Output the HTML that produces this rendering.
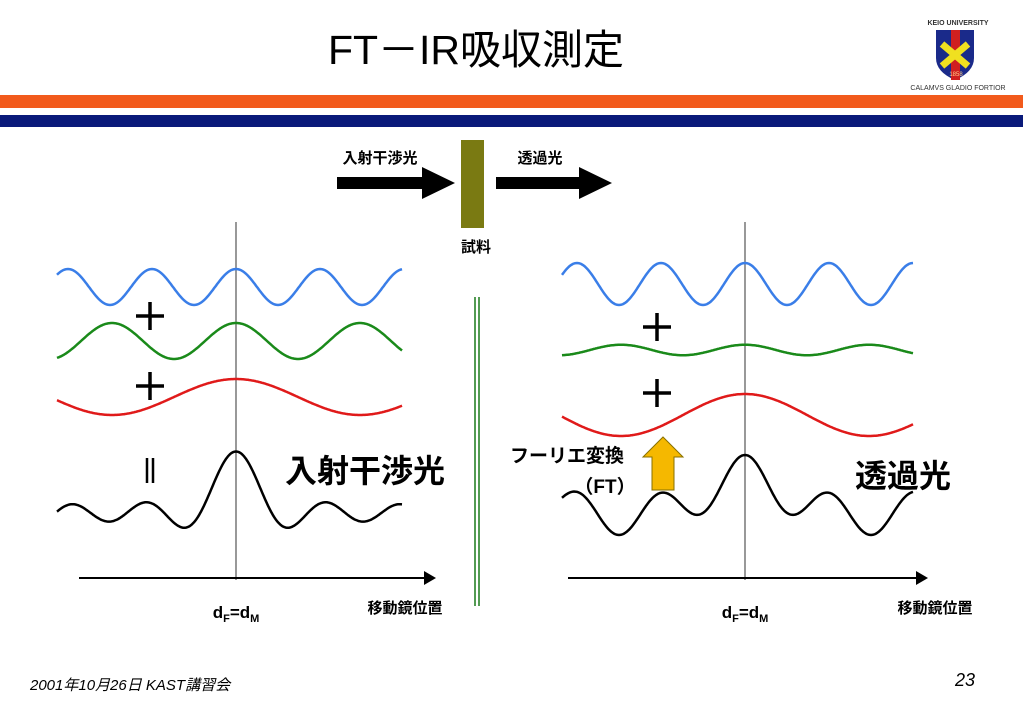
<!DOCTYPE html>
<html><head><meta charset="utf-8"><style>
body{margin:0;background:#fff;}
svg{display:block;font-family:"Liberation Sans","Noto Sans CJK JP",sans-serif;}
</style></head><body>
<svg width="1023" height="708" viewBox="0 0 1023 708">
<text x="476" y="64" font-size="41" text-anchor="middle">FT－IR吸収測定</text>
<rect x="0" y="95" width="1023" height="13" fill="#f25a1c"/>
<rect x="0" y="115" width="1023" height="12" fill="#0a1a7a"/>
<g>
<text x="958" y="25" font-size="7" text-anchor="middle" font-weight="bold" fill="#333">KEIO UNIVERSITY</text>
<path d="M936 30 h38 v28 q0 14 -19 22 q-19 -8 -19 -22z" fill="#1a2a8a"/>
<rect x="951" y="30" width="9" height="50" fill="#d02020"/>
<path d="M942 44 l26 22 M968 44 l-26 22" stroke="#f0e020" stroke-width="7"/>
<text x="956" y="76" font-size="6" fill="#fc8" text-anchor="middle">1858</text>
<text x="958" y="90" font-size="7" text-anchor="middle" fill="#333">CALAMVS GLADIO FORTIOR</text>
</g>
<text x="380" y="163" font-size="15" text-anchor="middle" font-weight="bold">入射干渉光</text>
<path d="M337 177 h85 v-10 l33 16 l-33 16 v-10 h-85z" fill="#000"/>
<rect x="461" y="140" width="23" height="88" fill="#7a7a12"/>
<text x="476" y="252" font-size="15" text-anchor="middle" font-weight="bold">試料</text>
<text x="540" y="163" font-size="15" text-anchor="middle" font-weight="bold">透過光</text>
<path d="M496 177 h83 v-10 l33 16 l-33 16 v-10 h-83z" fill="#000"/>
<line x1="475" y1="297" x2="475" y2="606" stroke="#1a7a1a" stroke-width="1.5"/>
<line x1="479" y1="297" x2="479" y2="606" stroke="#1a7a1a" stroke-width="1.5"/>
<g id="left"></g>
<g id="right"></g>
<g stroke="#000" stroke-width="3.5">
<path d="M136 316 h28 M150 302 v28"/>
<path d="M136 386 h28 M150 372 v28"/>
<path d="M643 327 h28 M657 313 v28"/>
<path d="M643 393 h28 M657 379 v28"/>
<path d="M147 458 v25 M153 458 v25" stroke-width="2.5"/>
</g>
<text x="365" y="482" font-size="32" font-weight="bold" text-anchor="middle">入射干渉光</text>
<text x="903" y="487" font-size="32" font-weight="bold" text-anchor="middle">透過光</text>
<text x="567" y="462" font-size="19" text-anchor="middle" font-weight="bold">フーリエ変換</text>
<text x="605" y="493" font-size="19" text-anchor="middle" font-weight="bold">（FT）</text>
<path d="M652 490 v-33 h-9 l20 -20 l20 20 h-9 v33z" fill="#f5b800" stroke="#887000" stroke-width="1"/>
<text x="236" y="618" font-size="17" font-weight="bold" text-anchor="middle">d<tspan font-size="11" dy="4">F</tspan><tspan dy="-4">=d</tspan><tspan font-size="11" dy="4">M</tspan></text>
<text x="745" y="618" font-size="17" font-weight="bold" text-anchor="middle">d<tspan font-size="11" dy="4">F</tspan><tspan dy="-4">=d</tspan><tspan font-size="11" dy="4">M</tspan></text>
<text x="405" y="613" font-size="15" font-weight="bold" text-anchor="middle">移動鏡位置</text>
<text x="935" y="613" font-size="15" font-weight="bold" text-anchor="middle">移動鏡位置</text>
<text x="30" y="690" font-size="15" font-style="italic">2001年10月26日  KAST講習会</text>
<text x="965" y="686" font-size="18" font-style="italic" text-anchor="middle">23</text>
</svg>
<script>
// wave component data
const periods = [84, 124, 248];
const leftAmps = [1, 1, 1];
const rightAmps = [1, 0.25, 1];
const colors = ['#3a7ee8', '#1a8a1a', '#e01a1a'];
const leftMid = [287, 341, 397];
const rightMid = [284, 350, 415];
const NS = 'http://www.w3.org/2000/svg';
function drawPanel(id, cx, x0, x1, ax0, ax1, amps, mids, compScale, sumMid, sumScale) {
  const g = document.getElementById(id);
  const vl = document.createElementNS(NS, 'line');
  
  
  vl.setAttribute('x1', cx); vl.setAttribute('x2', cx);
  vl.setAttribute('y1', 222); vl.setAttribute('y2', 580);
  vl.setAttribute('stroke', '#555'); vl.setAttribute('stroke-width', 1.2);
  g.appendChild(vl);
  const ax = document.createElementNS(NS, 'path');
  
  
  ax.setAttribute('d', `M${ax0} 578 H${ax1 - 10}`);
  ax.setAttribute('stroke', '#000'); ax.setAttribute('stroke-width', 2);
  g.appendChild(ax);
  const ah = document.createElementNS(NS, 'path');
  
  
  ah.setAttribute('d', `M${ax1 - 12} 571 L${ax1} 578 L${ax1 - 12} 585z`);
  g.appendChild(ah);
  const comp = (i, x) => amps[i] * Math.cos(2 * Math.PI * (x - cx) / periods[i]);
  for (let i = 0; i < 3; i++) {
    let d = '';
    for (let x = x0; x <= x1; x += 1) d += (x === x0 ? 'M' : 'L') + x + ' ' + (mids[i] - compScale * comp(i, x)).toFixed(1);
    const p = document.createElementNS(NS, 'path');
    
    
    p.setAttribute('d', d); p.setAttribute('fill', 'none');
    p.setAttribute('stroke', colors[i]); p.setAttribute('stroke-width', 2.5);
    g.appendChild(p);
  }
  let d = '';
  for (let x = x0; x <= x1; x += 1) {
    const s = comp(0, x) + comp(1, x) + comp(2, x);
    d += (x === x0 ? 'M' : 'L') + x + ' ' + (sumMid - sumScale * s).toFixed(1);
  }
  const p = document.createElementNS(NS, 'path');
  
  
  p.setAttribute('d', d); p.setAttribute('fill', 'none');
  p.setAttribute('stroke', '#000'); p.setAttribute('stroke-width', 2.5);
  g.appendChild(p);
}
drawPanel('left', 236, 57, 402, 79, 436, leftAmps, leftMid, 18, 504, 17.5);
drawPanel('right', 745, 562, 913, 568, 928, rightAmps, rightMid, 21, 500, 20);
</script>
</body></html>
